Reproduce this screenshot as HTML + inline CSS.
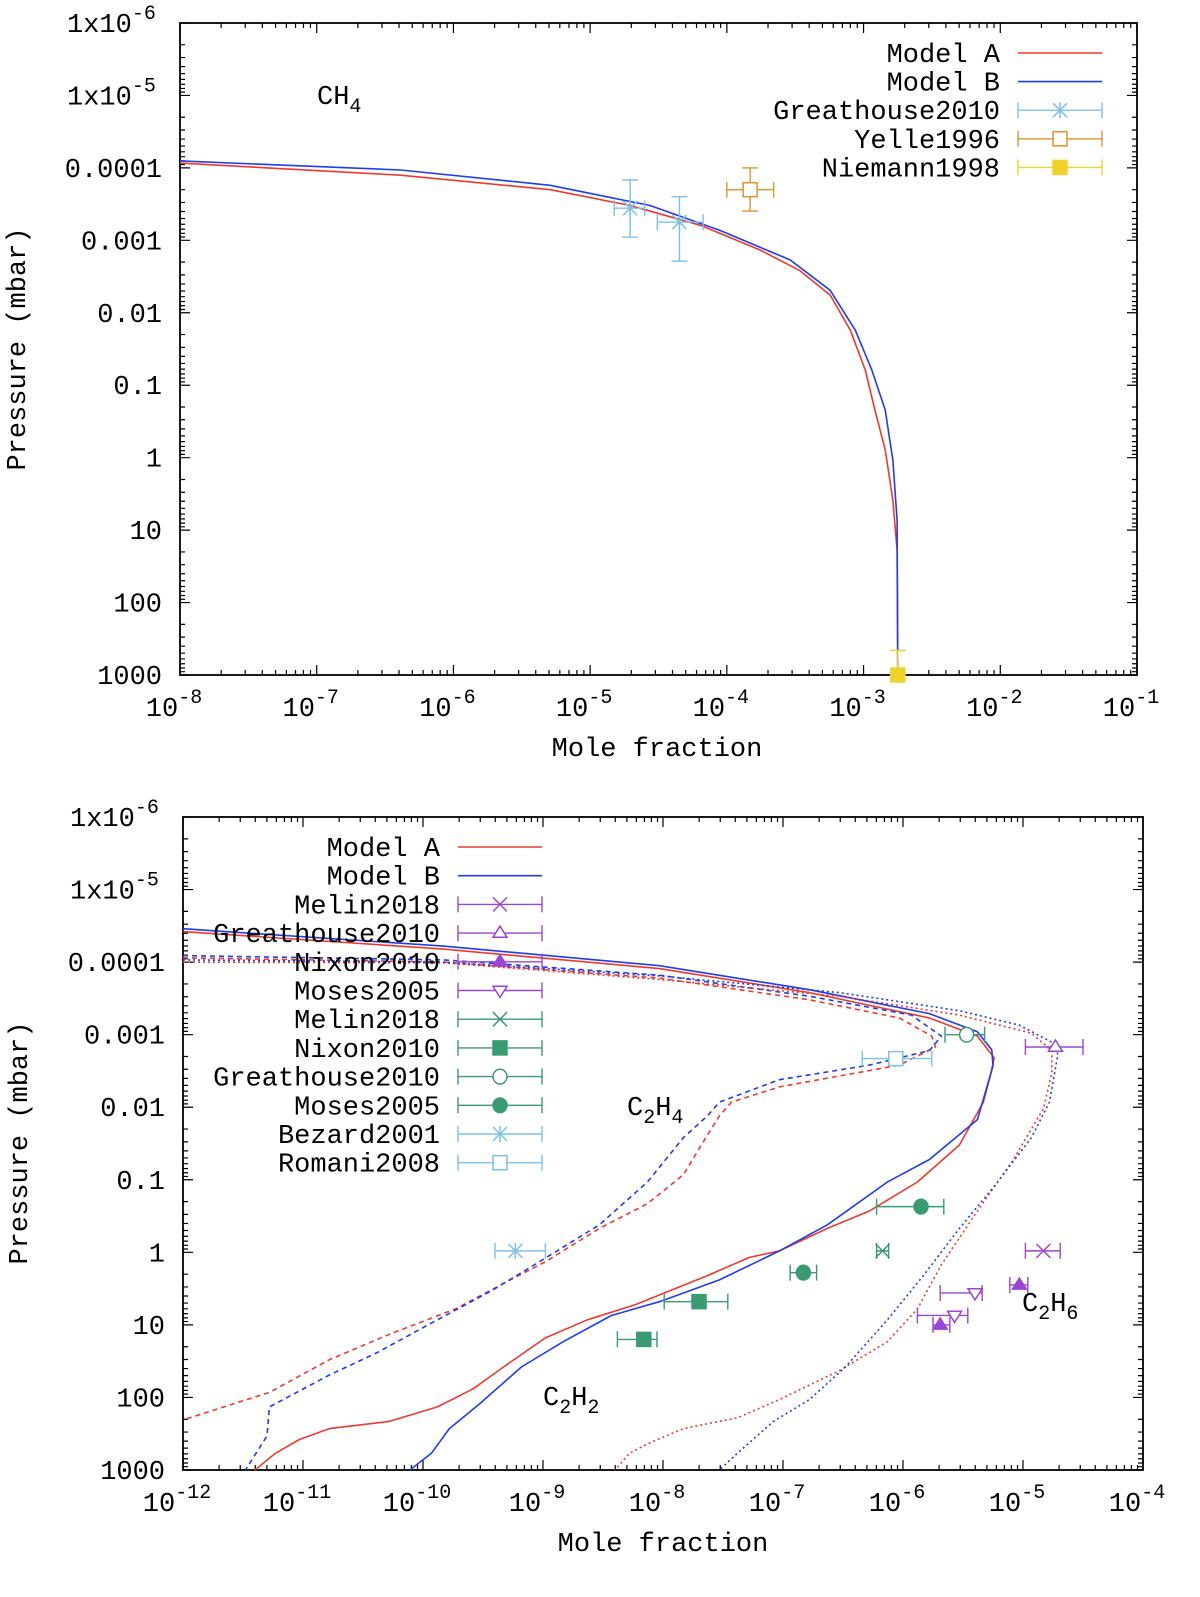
<!DOCTYPE html>
<html><head><meta charset="utf-8"><style>
html,body{margin:0;padding:0;background:#fff;}
svg{display:block;font-family:"Liberation Mono","DejaVu Sans Mono",monospace;}
</style></head><body>
<svg id="chart" width="1200" height="1597" viewBox="0 0 1200 1597" xmlns="http://www.w3.org/2000/svg"></svg>
<script>
// ===== TOP PANEL DATA (CH4) =====
const topXTicks = [-8,-7,-6,-5,-4,-3,-2,-1];
const topYTickLabels = ["1x10|-6","1x10|-5","0.0001","0.001","0.01","0.1","1","10","100","1000"];
const ch4A_x = [1e-8,4.1e-7,5.1e-6,1.96e-5,6.4e-5,1.75e-4,3.4e-4,5.7e-4,8.0e-4,1.03e-3,1.21e-3,1.44e-3,1.64e-3,1.76e-3,1.78e-3];
const ch4A_p = [8.6e-5,1.26e-4,2.0e-4,3.3e-4,6.2e-4,1.36e-3,2.6e-3,5.7e-3,0.0174,0.062,0.22,0.78,3.9,19,1000];
const ch4B_x = [1e-8,4.1e-7,5.1e-6,2.74e-5,8.9e-5,2.9e-4,5.7e-4,8.7e-4,1.15e-3,1.44e-3,1.64e-3,1.76e-3,1.78e-3];
const ch4B_p = [8.0e-5,1.07e-4,1.74e-4,3.3e-4,7.3e-4,1.86e-3,4.9e-3,0.0174,0.062,0.22,1.09,7.3,1000];
// observations: x, p, xlo, xhi, plo, phi
const greathouseCH4 = [[1.96e-5,3.6e-4,1.5e-5,2.5e-5,1.47e-4,9.0e-4],[4.5e-5,5.6e-4,3.1e-5,6.7e-5,2.5e-4,1.94e-3]];
const yelleCH4 = [[1.48e-4,2.0e-4,1.0e-4,2.2e-4,1.0e-4,3.95e-4]];
const niemannCH4 = [[1.78e-3,1000,1.78e-3,1.78e-3,457,1000]];

// ===== BOTTOM PANEL DATA (log10 values) =====
const botXTicks = [-12,-11,-10,-9,-8,-7,-6,-5,-4];
const botYTickLabels = ["1x10|-6","1x10|-5","0.0001","0.001","0.01","0.1","1","10","100","1000"];
const c2h2A_lx = [-12.00,-9.83,-8.03,-6.78,-5.78,-5.38,-5.24,-5.27,-5.33,-5.53,-5.88,-6.28,-6.63,-7.03,-7.28,-7.63,-8.23,-8.63,-8.98,-9.33,-9.58,-9.88,-10.28,-10.78,-11.03,-11.23,-11.40];
const c2h2A_lp = [-4.42,-4.18,-3.91,-3.58,-3.23,-2.98,-2.68,-2.45,-2.07,-1.48,-0.97,-0.57,-0.33,-0.02,0.07,0.32,0.72,0.93,1.18,1.58,1.88,2.13,2.33,2.43,2.58,2.77,3.00];
const c2h2B_lx = [-12.00,-9.83,-8.03,-6.78,-5.78,-5.38,-5.26,-5.25,-5.38,-5.78,-6.13,-6.63,-7.03,-7.53,-8.03,-8.43,-8.83,-9.18,-9.53,-9.78,-9.93,-10.11];
const c2h2B_lp = [-4.46,-4.22,-3.95,-3.62,-3.29,-3.04,-2.79,-2.57,-1.83,-1.28,-0.97,-0.38,-0.02,0.38,0.68,0.87,1.23,1.58,2.09,2.43,2.77,3.00];
const c2h4A_lx = [-12.00,-9.83,-8.03,-6.78,-6.03,-5.76,-5.73,-6.03,-7.03,-7.43,-7.53,-7.68,-7.83,-8.13,-8.53,-8.98,-9.33,-9.73,-10.28,-10.78,-11.28,-12.00];
const c2h4A_lp = [-4.06,-4.00,-3.78,-3.48,-3.23,-2.98,-2.83,-2.58,-2.28,-2.07,-1.88,-1.48,-1.07,-0.67,-0.33,0.13,0.43,0.78,1.13,1.48,1.93,2.31];
const c2h4B_lx = [-12.00,-9.83,-8.03,-6.78,-5.93,-5.68,-5.78,-6.28,-7.03,-7.53,-7.63,-7.83,-8.13,-8.53,-9.03,-9.43,-9.88,-10.38,-10.78,-11.28,-11.30,-11.48];
const c2h4B_lp = [-4.09,-4.03,-3.82,-3.53,-3.27,-2.98,-2.78,-2.58,-2.38,-2.07,-1.88,-1.58,-0.97,-0.38,0.13,0.53,0.93,1.38,1.69,2.13,2.53,3.00];
const c2h6A_lx = [-12.00,-9.83,-8.03,-6.53,-5.53,-4.93,-4.76,-4.76,-4.83,-5.08,-5.38,-5.68,-5.88,-6.13,-6.53,-7.03,-7.38,-7.83,-8.13,-8.28,-8.40];
const c2h6A_lp = [-4.00,-3.99,-3.76,-3.53,-3.27,-3.02,-2.78,-2.47,-1.98,-1.28,-0.57,0.17,0.78,1.23,1.63,2.03,2.28,2.43,2.64,2.77,3.00];
const c2h6B_lx = [-12.00,-9.83,-8.03,-6.53,-5.53,-5.03,-4.73,-4.71,-4.78,-4.93,-5.23,-5.53,-5.83,-6.13,-6.48,-6.78,-7.08,-7.38,-7.53];
const c2h6B_lp = [-4.03,-4.00,-3.81,-3.58,-3.33,-3.13,-2.87,-2.72,-2.07,-1.58,-0.93,-0.33,0.32,0.93,1.58,2.03,2.33,2.77,3.00];
// observations (log10): lx, lp, lxlo, lxhi
const melinC2H6 = [[-4.83,-0.02,-4.98,-4.69]];
const greathouseC2H6 = [[-4.73,-2.83,-4.98,-4.50]];
const nixonC2H6 = [[-5.03,0.45,-5.11,-4.96],[-5.69,1.00,-5.75,-5.61]];
const mosesC2H6 = [[-5.40,0.56,-5.69,-5.34],[-5.57,0.87,-5.88,-5.46]];
const melinC2H2 = [[-6.17,-0.02,-6.22,-6.12]];
const nixonC2H2 = [[-7.70,0.68,-7.99,-7.46],[-8.16,1.20,-8.38,-8.05]];
const greathouseC2H2 = [[-5.47,-3.00,-5.65,-5.32]];
const mosesC2H2 = [[-5.85,-0.63,-6.22,-5.66],[-6.83,0.28,-6.94,-6.72]];
const bezardC2H4 = [[-9.23,-0.02,-9.40,-8.98]];
const romaniC2H4 = [[-6.06,-2.67,-6.34,-5.76]];

// ===== RENDER =====
const NS = "http://www.w3.org/2000/svg";
const svg = document.getElementById('chart');
const RED="#ee3a2e", BLUE="#1f3cf0", PURPLE="#9b45d6", GREEN="#3a9a72", LBLUE="#7cc0ee", ORANGE="#e0922c", YELLOW="#f0d22a";
const FS=27, SFS=20;
function mk(tag, attrs, parent){const e=document.createElementNS(NS,tag);for(const k in attrs)e.setAttribute(k,attrs[k]);(parent||svg).appendChild(e);return e;}

function makeAxis(x0,x1,y0,y1,lxmin,lxmax,lpmin,lpmax){
  return {X:l=>x0+(l-lxmin)/(lxmax-lxmin)*(x1-x0), Y:l=>y0+(l-lpmin)/(lpmax-lpmin)*(y1-y0), x0,x1,y0,y1,lxmin,lxmax,lpmin,lpmax};
}
function drawFrame(ax, g, xticks, ylabels, xlabelY){
  const f=mk('rect',{x:ax.x0,y:ax.y0,width:ax.x1-ax.x0,height:ax.y1-ax.y0,fill:'none',stroke:'#000','stroke-width':1.8},g);
  
  
  let d='';
  for(let l=ax.lxmin;l<=ax.lxmax;l++){
    const x=ax.X(l); d+=`M${x},${ax.y1}v-10M${x},${ax.y0}v10`;
    if(l<ax.lxmax) for(let m=2;m<=9;m++){const xm=ax.X(l+Math.log10(m)); d+=`M${xm},${ax.y1}v-5M${xm},${ax.y0}v5`;}
  }
  for(let l=ax.lpmin;l<=ax.lpmax;l++){
    const y=ax.Y(l); d+=`M${ax.x0},${y}h10M${ax.x1},${y}h-10`;
    if(l<ax.lpmax) for(let m=2;m<=9;m++){const ym=ax.Y(l+Math.log10(m)); d+=`M${ax.x0},${ym}h5M${ax.x1},${ym}h-5`;}
  }
  const t=mk('path',{d,stroke:'#000','stroke-width':1.2,fill:'none'},g);
  
  
  xticks.forEach(l=>{
    const tx=mk('text',{x:ax.X(l)-6,y:xlabelY,'text-anchor':'middle','font-size':FS},g);
    
    
    tx.appendChild(document.createTextNode('10'));
    const s=mk('tspan',{dy:-13,'font-size':SFS},tx); s.textContent=String(l);
  });
  ylabels.forEach((lab,i)=>{
    const y=ax.Y(ax.lpmin+i);
    const tx=mk('text',{x:ax.x0-18,y:y+9,'text-anchor':'end','font-size':FS},g);
    
    
    if(lab.includes('|')){const [a,b]=lab.split('|');tx.setAttribute('text-anchor','start');tx.setAttribute('x',ax.x0-113);
      tx.appendChild(document.createTextNode(a));const s=mk('tspan',{dy:-13,'font-size':SFS},tx);s.textContent=b;}
    else tx.textContent=lab;
  });
}
function line(ax,g,lx,lp,color,dash,name){
  const d=lx.map((v,i)=>(i?'L':'M')+ax.X(v).toFixed(1)+','+ax.Y(lp[i]).toFixed(1)).join('');
  const p=mk('path',{d,fill:'none',stroke:color,'stroke-width':1.6,'stroke-linejoin':'round'},g);
  if(dash) p.setAttribute('stroke-dasharray',dash);
  
  
}
function marker(g,type,x,y,color){
  const s=7; let e;
  if(type==='x') e=mk('path',{d:`M${x-s},${y-s}L${x+s},${y+s}M${x-s},${y+s}L${x+s},${y-s}`,stroke:color,'stroke-width':1.5,fill:'none'},g);
  else if(type==='star') e=mk('path',{d:`M${x-s},${y-s}L${x+s},${y+s}M${x-s},${y+s}L${x+s},${y-s}M${x},${y-s-1}V${y+s+1}`,stroke:color,'stroke-width':1.5,fill:'none'},g);
  else if(type==='tri'||type==='trif') e=mk('path',{d:`M${x},${y-s}L${x+s},${y+s*0.6}L${x-s},${y+s*0.6}Z`,stroke:color,'stroke-width':1.5,fill:type==='trif'?color:'#fff'},g);
  else if(type==='tridown') e=mk('path',{d:`M${x},${y+s}L${x+s},${y-s*0.6}L${x-s},${y-s*0.6}Z`,stroke:color,'stroke-width':1.5,fill:'#fff'},g);
  else if(type==='sq'||type==='sqf') e=mk('rect',{x:x-s,y:y-s,width:2*s,height:2*s,stroke:color,'stroke-width':1.5,fill:type==='sqf'?color:'#fff'},g);
  else e=mk('ellipse',{cx:x,cy:y,rx:s,ry:s*1.05,stroke:color,'stroke-width':1.5,fill:type==='circf'?color:'#fff'},g);
  
  
}
function errbar(g,x1,x2,y,color,vert){
  let d=`M${x1},${y}H${x2}M${x1},${y-8}v16M${x2},${y-8}v16`;
  if(vert) d+=`M${vert[0]},${vert[1]}V${vert[2]}M${vert[0]-8},${vert[1]}h16M${vert[0]-8},${vert[2]}h16`;
  const e=mk('path',{d,stroke:color,'stroke-width':1.4,fill:'none'},g);
  
  
}
function legendRow(g,label,xr,y,color,type){
  const t=mk('text',{x:xr,y:y+9,'text-anchor':'end','font-size':FS},g);
  
  
  t.textContent=label;
  const x1=xr+18,x2=xr+102;
  if(!type){const l=mk('path',{d:`M${x1},${y}H${x2}`,stroke:color,'stroke-width':1.6},g);
    
    }
  else{errbar(g,x1,x2,y,color);marker(g,type,(x1+x2)/2,y,color);}
}
function label(g,x,y,parts,name){
  const t=mk('text',{x,y,'font-size':FS},g);
  
  
  parts.forEach((p,i)=>{const s=mk('tspan',i%2?{dy:8,'font-size':SFS}:{dy:i?-8:0},t);s.textContent=p;});
}

// --- top panel ---
const gTop=mk('g',{});  
const A1=makeAxis(180,1137,23,675,-8,-1,-6,3);
drawFrame(A1,gTop,topXTicks,topYTickLabels,716);
line(A1,gTop,ch4A_x.map(Math.log10),ch4A_p.map(Math.log10),RED,null,'ch4-model-a-line');
line(A1,gTop,ch4B_x.map(Math.log10),ch4B_p.map(Math.log10),BLUE,null,'ch4-model-b-line');
function topObs(arr,type,color){arr.forEach(o=>{const L=Math.log10;const x=A1.X(L(o[0])),y=A1.Y(L(o[1]));
  errbar(gTop,A1.X(L(o[2])),A1.X(L(o[3])),y,color,[x,A1.Y(L(o[4])),A1.Y(L(o[5]))]);marker(gTop,type,x,y,color);});}
topObs(greathouseCH4,'star',LBLUE); topObs(yelleCH4,'sq',ORANGE); topObs(niemannCH4,'sqf',YELLOW);
[["Model A",RED,null],["Model B",BLUE,null],["Greathouse2010",LBLUE,'star'],["Yelle1996",ORANGE,'sq'],["Niemann1998",YELLOW,'sqf']]
 .forEach((r,i)=>legendRow(gTop,r[0],1000,53+i*28.6,r[1],r[2]));
label(gTop,317,104,["CH","4"],'ch4-annotation');
let t=mk('text',{x:657,y:756,'text-anchor':'middle','font-size':FS},gTop);t.textContent='Mole fraction';


t=mk('text',{x:25,y:349,'text-anchor':'middle','font-size':FS,transform:'rotate(-90 25 349)'},gTop);t.textContent='Pressure (mbar)';



// --- bottom panel ---
const gBot=mk('g',{});  
const A2=makeAxis(183,1143,817,1470,-12,-4,-6,3);
drawFrame(A2,gBot,botXTicks,botYTickLabels,1511);
line(A2,gBot,c2h2A_lx,c2h2A_lp,RED,null,'c2h2-model-a-line');
line(A2,gBot,c2h2B_lx,c2h2B_lp,BLUE,null,'c2h2-model-b-line');
line(A2,gBot,c2h4A_lx,c2h4A_lp,RED,'5,4','c2h4-model-a-line');
line(A2,gBot,c2h4B_lx,c2h4B_lp,BLUE,'5,4','c2h4-model-b-line');
line(A2,gBot,c2h6A_lx,c2h6A_lp,RED,'2,3','c2h6-model-a-line');
line(A2,gBot,c2h6B_lx,c2h6B_lp,BLUE,'2,3','c2h6-model-b-line');
function botObs(arr,type,color){arr.forEach(o=>{const x=A2.X(o[0]),y=A2.Y(o[1]);errbar(gBot,A2.X(o[2]),A2.X(o[3]),y,color);marker(gBot,type,x,y,color);});}
botObs(melinC2H6,'x',PURPLE);botObs(greathouseC2H6,'tri',PURPLE);botObs(nixonC2H6,'trif',PURPLE);botObs(mosesC2H6,'tridown',PURPLE);
botObs(melinC2H2,'x',GREEN);botObs(nixonC2H2,'sqf',GREEN);botObs(greathouseC2H2,'circ',GREEN);botObs(mosesC2H2,'circf',GREEN);
botObs(bezardC2H4,'star',LBLUE);botObs(romaniC2H4,'sq',LBLUE);
[["Model A",RED,null],["Model B",BLUE,null],["Melin2018",PURPLE,'x'],["Greathouse2010",PURPLE,'tri'],["Nixon2010",PURPLE,'trif'],["Moses2005",PURPLE,'tridown'],
 ["Melin2018",GREEN,'x'],["Nixon2010",GREEN,'sqf'],["Greathouse2010",GREEN,'circ'],["Moses2005",GREEN,'circf'],["Bezard2001",LBLUE,'star'],["Romani2008",LBLUE,'sq']]
 .forEach((r,i)=>legendRow(gBot,r[0],440,847+i*28.7,r[1],r[2]));
label(gBot,627,1115,["C","2","H","4"],'c2h4-annotation');
label(gBot,1022,1311,["C","2","H","6"],'c2h6-annotation');
label(gBot,543,1405,["C","2","H","2"],'c2h2-annotation');
t=mk('text',{x:663,y:1551,'text-anchor':'middle','font-size':FS},gBot);t.textContent='Mole fraction';


t=mk('text',{x:27,y:1143,'text-anchor':'middle','font-size':FS,transform:'rotate(-90 27 1143)'},gBot);t.textContent='Pressure (mbar)';


</script>
</body></html>
